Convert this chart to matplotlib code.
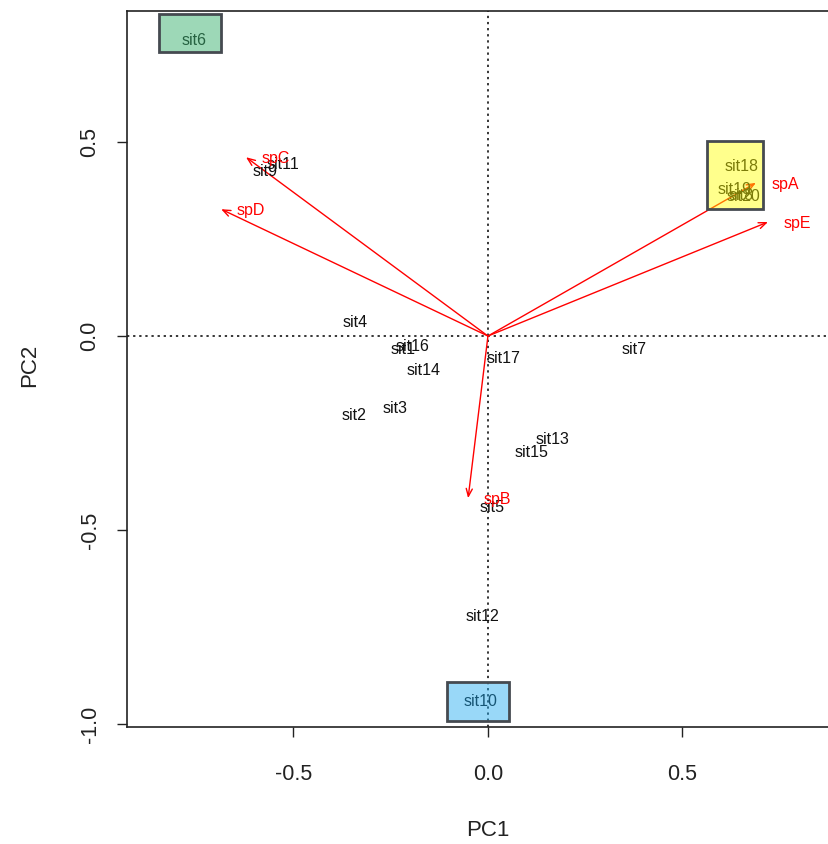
import matplotlib
matplotlib.use("Agg")
import matplotlib.pyplot as plt
from matplotlib.patches import Rectangle

plt.rcParams['font.family'] = ['Liberation Sans', 'DejaVu Sans']

# site scores (label centres)
sites = ["sit1", "sit2", "sit3", "sit4", "sit5", "sit6", "sit7", "sit8", "sit9", "sit10",
         "sit11", "sit12", "sit13", "sit14", "sit15", "sit16", "sit17", "sit18", "sit19", "sit20"]
site_pc1 = [-0.218, -0.344, -0.239, -0.342, 0.010, -0.756, 0.375, 0.652, -0.573, -0.018,
            -0.527, -0.015, 0.167, -0.165, 0.113, -0.193, 0.039, 0.653, 0.635, 0.658]
site_pc2 = [-0.036, -0.204, -0.188, 0.034, -0.443, 0.763, -0.034, 0.363, 0.425, -0.943,
            0.441, -0.722, -0.268, -0.088, -0.299, -0.028, -0.059, 0.436, 0.379, 0.360]

# species loadings (arrow tips)
species = ["spA", "spB", "spC", "spD", "spE"]
sp_pc1 = [0.689, -0.051, -0.622, -0.686, 0.720]
sp_pc2 = [0.395, -0.418, 0.461, 0.327, 0.294]

# highlight boxes: x0, x1, y0, y1
box_x0 = [-0.846, -0.105, 0.563]
box_x1 = [-0.686, 0.054, 0.707]
box_y0 = [0.732, -0.992, 0.327]
box_y1 = [0.830, -0.892, 0.503]
box_cols = [(60/255, 179/255, 113/255, 0.5), (30/255, 170/255, 240/255, 0.45), (1.0, 1.0, 0.0, 0.45)]

fig = plt.figure(figsize=(8.29, 8.44), dpi=100)
ax = fig.add_axes([127/829, 117/844, 711/829, 716/844])
ax.set_xlim(-0.928, 0.90)
ax.set_ylim(-1.008, 0.838)

ax.axhline(0, color='black', lw=1.1, linestyle=(0, (1.5, 2.5)), zorder=1)
ax.axvline(0, color='black', lw=1.1, linestyle=(0, (1.5, 2.5)), zorder=1)

for name, x, y in zip(sites, site_pc1, site_pc2):
    ax.text(x, y, name, fontsize=11.5, ha='center', va='center', color='#111111', zorder=3)

for name, x, y in zip(species, sp_pc1, sp_pc2):
    ax.annotate('', xy=(x, y), xytext=(0, 0),
                arrowprops=dict(arrowstyle='->,head_length=0.55,head_width=0.22',
                                color='red', lw=1.0, shrinkA=0, shrinkB=0), zorder=2)
    ax.annotate(name, xy=(x, y), xytext=(11, -1), textcoords='offset points',
                ha='left', va='center', fontsize=11.5, color='red', zorder=3)

# boxes drawn last so they tint the labels underneath
for x0, x1, y0, y1, c in zip(box_x0, box_x1, box_y0, box_y1, box_cols):
    ax.add_patch(Rectangle((x0, y0), x1 - x0, y1 - y0, facecolor=c,
                           edgecolor='#454a50', lw=2.0, zorder=4))

ax.set_xticks([-0.5, 0.0, 0.5])
ax.set_yticks([-1.0, -0.5, 0.0, 0.5])
ax.set_xticklabels(["-0.5", "0.0", "0.5"])
ax.set_yticklabels(["-1.0", "-0.5", "0.0", "0.5"], rotation=90, va='center')
ax.tick_params(direction='out', length=7, width=1.0, labelsize=15.5, colors='#222222')
ax.tick_params(axis='x', pad=20)
ax.tick_params(axis='y', pad=12)
for s in ax.spines.values():
    s.set_linewidth(1.2)
    s.set_color('#222222')

fig.text(488/829, 1 - 830/844, "PC1", fontsize=16, ha='center', va='center', color='#222222')
fig.text(30/829, 1 - 365/844, "PC2", fontsize=16, ha='center', va='center', rotation=90, color='#222222')

fig.savefig("out.png", dpi=100)
